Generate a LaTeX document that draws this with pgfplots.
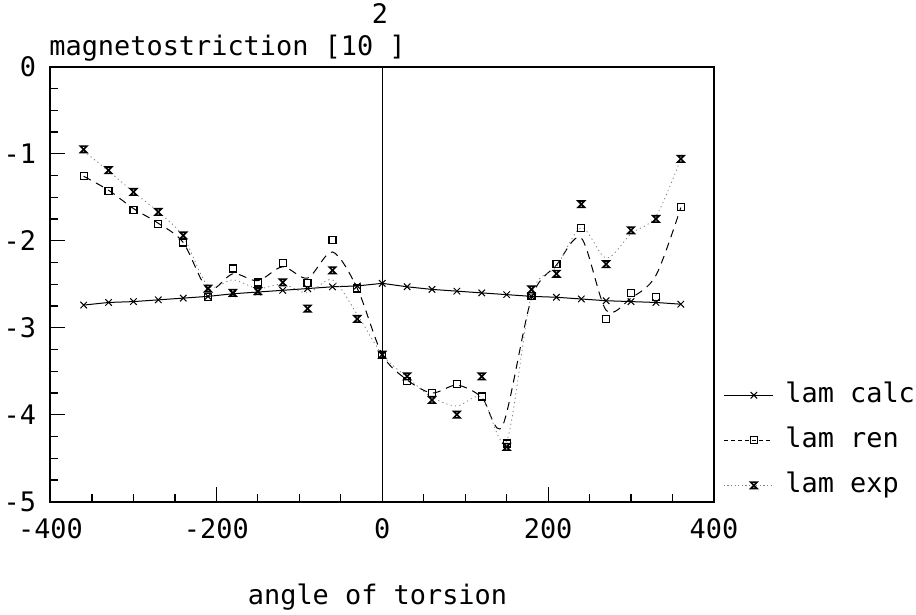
\documentclass[border=0pt]{standalone}
\usepackage{pgfplots}
\pgfplotsset{compat=1.18}
\usepackage{fontspec}
\newfontfamily\plt{DejaVu Sans Mono}
\pgfdeclareplotmark{hourglass}{%
  \pgfpathmoveto{\pgfqpoint{-\pgfplotmarksize}{\pgfplotmarksize}}%
  \pgfpathlineto{\pgfqpoint{\pgfplotmarksize}{\pgfplotmarksize}}%
  \pgfpathlineto{\pgfqpoint{-\pgfplotmarksize}{-\pgfplotmarksize}}%
  \pgfpathlineto{\pgfqpoint{\pgfplotmarksize}{-\pgfplotmarksize}}%
  \pgfpathclose
  \pgfusepathqstroke}
\begin{document}
\begin{tikzpicture}
\begin{axis}[
  at={(0,0)}, anchor=south west,
  scale only axis, width=331.75pt, height=217.5pt,
  xmin=-400, xmax=400, ymin=-5, ymax=0,
  axis line style={line width=1pt},
  tick pos=left, tick align=inside,
  xtick={-400,-200,0,200,400},
  xticklabels={-400,-200,0,200,400},
  ytick={-5,-4,-3,-2,-1,0},
  yticklabels={-5,-4,-3,-2,-1,0},
  minor x tick num=3, minor y tick num=3,
  major tick length=7.5pt, minor tick length=3.8pt,
  every tick/.style={black, line width=0.6pt},
  xticklabel style={font=\plt\fontsize{13.45}{16}\selectfont, inner sep=0pt, anchor=north, yshift=-8.3pt},
  yticklabel style={font=\plt\fontsize{13.45}{16}\selectfont, inner sep=0pt, anchor=east, xshift=-7pt},
  legend style={at={(1,0)}, anchor=south west, xshift=4.5pt, yshift=1.5pt,
    draw=none, fill=none, inner sep=0pt, row sep=9.5pt,
    font=\plt\fontsize{13.45}{16}\selectfont,
    nodes={inner sep=0pt, text height=10pt, text depth=3pt},
    /tikz/every odd column/.append style={column sep=6pt}},
  legend cell align=left,
  legend image code/.code={\draw[mark repeat=2,mark phase=2,#1] plot coordinates {(0pt,0pt) (15pt,0pt) (24.5pt,0pt)};},
  clip=false,
]
% vertical line at 0
\addplot[black, line width=0.6pt, forget plot] coordinates {(0,-5) (0,0)};
% lam calc
\addplot[black, line width=0.5pt, mark=x, mark size=2.3pt] coordinates {
(-360,-2.74) (-330,-2.71) (-300,-2.70) (-270,-2.68) (-240,-2.66) (-210,-2.64)
(-180,-2.61) (-150,-2.59) (-120,-2.57) (-90,-2.55) (-60,-2.53) (-30,-2.52)
(0,-2.49) (30,-2.53) (60,-2.56) (90,-2.58) (120,-2.60) (150,-2.62)
(180,-2.64) (210,-2.65) (240,-2.67) (270,-2.69) (300,-2.70) (330,-2.71) (360,-2.73)};
\addlegendentry{lam calc}
% lam ren curve
\addplot[black, line width=0.5pt, dash pattern=on 4pt off 3pt, smooth, tension=0.5, forget plot] coordinates {
(-360,-1.26) (-330,-1.42) (-300,-1.63) (-270,-1.80) (-240,-2.02) (-210,-2.56)
(-180,-2.38) (-150,-2.46) (-120,-2.30) (-90,-2.43) (-60,-2.13) (-30,-2.55)
(0,-3.31) (30,-3.60) (60,-3.75) (90,-3.66) (120,-3.80) (145,-4.13)
(180,-2.66) (210,-2.28) (240,-1.97) (270,-2.80) (300,-2.66) (330,-2.40) (360,-1.62)};
% lam ren squares
\addplot[black, only marks, mark=square, mark size=1.75pt, mark options={line width=0.6pt}, forget plot] coordinates {
(-360,-1.26) (-330,-1.43) (-300,-1.65) (-270,-1.81) (-240,-2.02) (-210,-2.65)
(-180,-2.32) (-150,-2.48) (-120,-2.26) (-90,-2.49) (-60,-1.99) (-30,-2.55)
(0,-3.31) (30,-3.61) (60,-3.75) (90,-3.65) (120,-3.79) (150,-4.33)
(180,-2.64) (210,-2.27) (240,-1.85) (270,-2.90) (300,-2.60) (330,-2.65) (360,-1.61)};
% lam exp curve
\addplot[gray, line width=0.4pt, dash pattern=on 0.6pt off 1.6pt, smooth, tension=0.5, forget plot] coordinates {
(-360,-0.97) (-330,-1.20) (-300,-1.44) (-270,-1.67) (-240,-1.95) (-210,-2.52)
(-180,-2.45) (-150,-2.55) (-120,-2.50) (-90,-2.60) (-60,-2.45) (-30,-2.85)
(0,-3.31) (30,-3.57) (60,-3.80) (90,-3.90) (120,-3.80) (150,-4.30)
(180,-2.62) (210,-2.30) (240,-1.85) (270,-2.20) (300,-1.92) (330,-1.72) (360,-1.06)};
% lam exp marks
\addplot[black, only marks, mark=hourglass, mark size=1.6pt, mark options={line width=0.8pt}, forget plot] coordinates {
(-360,-0.95) (-330,-1.19) (-300,-1.44) (-270,-1.67) (-240,-1.94) (-210,-2.55)
(-180,-2.60) (-150,-2.58) (-120,-2.48) (-90,-2.78) (-60,-2.34) (-30,-2.90)
(0,-3.31) (30,-3.56) (60,-3.83) (90,-4.00) (120,-3.56) (150,-4.37)
(180,-2.56) (210,-2.38) (240,-1.58) (270,-2.27) (300,-1.88) (330,-1.75) (360,-1.06)};
\addlegendimage{black, line width=0.5pt, dash pattern=on 2pt off 1.5pt, mark=square, mark size=1.75pt, mark options={solid}}
\addlegendentry{lam ren}
\addlegendimage{gray, line width=0.4pt, dash pattern=on 0.6pt off 1.2pt, mark=hourglass, mark size=1.6pt, mark options={black, solid, line width=0.8pt}}
\addlegendentry{lam exp}
\end{axis}
\node[anchor=base west, inner sep=0pt, font=\plt\fontsize{13.45}{16}\selectfont] at (-0.75pt,223.2pt) {magnetostriction [10 ]};
\node[anchor=center, inner sep=0pt, font=\plt\fontsize{13.45}{16}\selectfont] at (164.75pt,243.85pt) {2};
\node[anchor=base, inner sep=0pt, font=\plt\fontsize{13.45}{16}\selectfont] at (163.5pt,-51.6pt) {angle of torsion};
\pgfresetboundingbox
\path[use as bounding box] (-25.25pt,-56.65pt) rectangle (432.75pt,250.85pt);
\end{tikzpicture}
\end{document}
